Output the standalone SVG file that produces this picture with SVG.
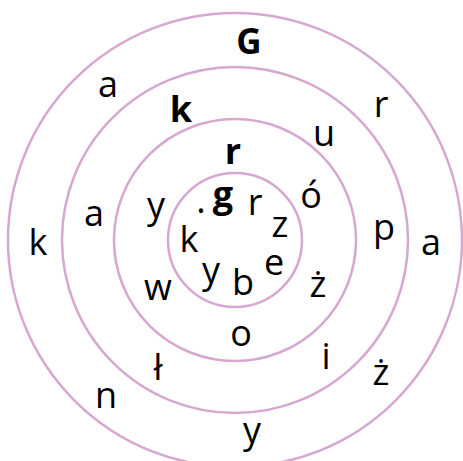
<svg xmlns="http://www.w3.org/2000/svg" width="463" height="461" viewBox="0 0 463 461">
<style>
.ring{fill:none;stroke:#d6a8d0;stroke-width:2.5}
text{font-family:"Open Sans","Noto Sans",sans-serif;font-size:36px;fill:#000;text-anchor:middle}
.b{font-weight:bold}
.cap{font-size:35px}
</style>
<rect width="463" height="461" fill="#fff"/>
<g id="rings">
<circle class="ring" cx="235" cy="240" r="227"/>
<circle class="ring" cx="235" cy="240" r="173"/>
<circle class="ring" cx="235" cy="240" r="121"/>
<circle class="ring" cx="235" cy="240" r="67"/>
</g>
<g id="ring-outer">
<text x="249" y="54" class="b cap">G</text>
<text x="108" y="97">a</text>
<text x="381" y="117">r</text>
<text x="38" y="255">k</text>
<text x="431" y="255">a</text>
<text x="106" y="408">n</text>
<text x="381" y="385">ż</text>
<text x="252" y="443">y</text>
</g>
<g id="ring-second">
<text x="181" y="122" class="b">k</text>
<text x="324" y="146">u</text>
<text x="94" y="226">a</text>
<text x="384" y="240">p</text>
<text x="158" y="380">ł</text>
<text x="326" y="369">i</text>
</g>
<g id="ring-third">
<text x="233" y="164" class="b">r</text>
<text x="311" y="208">ó</text>
<text x="156" y="218">y</text>
<text x="158" y="300">w</text>
<text x="318" y="297">ż</text>
<text x="241" y="346">o</text>
</g>
<g id="ring-inner">
<text x="201" y="213">.</text>
<text x="223" y="207" class="b">g</text>
<text x="255" y="215">r</text>
<text x="280" y="237">z</text>
<text x="189" y="252">k</text>
<text x="274" y="275">e</text>
<text x="211" y="283">y</text>
<text x="243" y="295">b</text>
</g>
</svg>
